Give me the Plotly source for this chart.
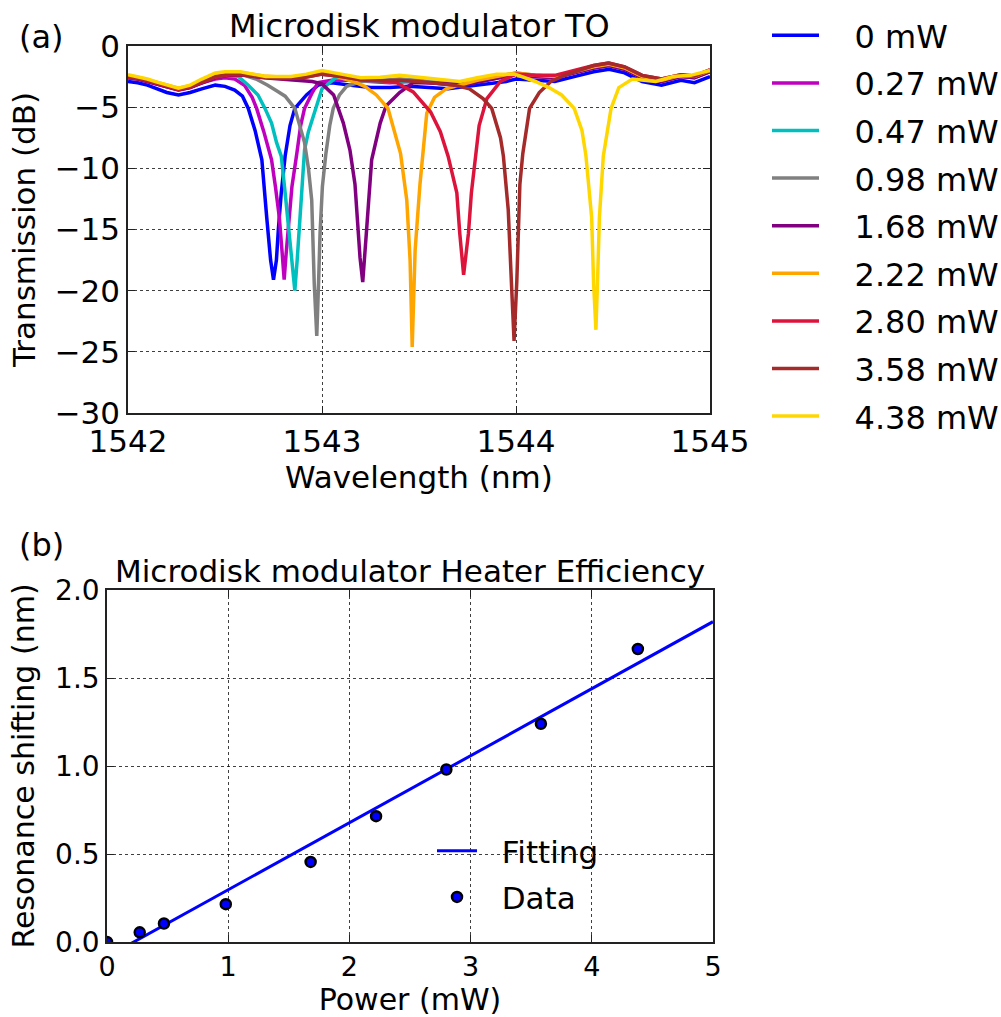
import plotly.graph_objects as go

# ---------------- data: panel (a) transmission spectra ----------------
labels = ["0 mW", "0.27 mW", "0.47 mW", "0.98 mW", "1.68 mW", "2.22 mW", "2.80 mW", "3.58 mW", "4.38 mW"]
colors = ["#0000ff", "#bf00bf", "#00bfbf", "#808080", "#800080", "#ffa500", "#dc143c", "#a52a2a", "#ffd700"]

wl_0 = [1542.00, 1542.05, 1542.10, 1542.15, 1542.20, 1542.26, 1542.32, 1542.38, 1542.45, 1542.50, 1542.55, 1542.59,
        1542.62, 1542.655, 1542.69, 1542.715, 1542.735, 1542.75, 1542.765, 1542.775, 1542.79, 1542.81, 1542.835, 1542.86,
        1542.92, 1542.98, 1543.05, 1543.15, 1543.25, 1543.35, 1543.45, 1543.55, 1543.65, 1543.75, 1543.85, 1543.95,
        1544.00, 1544.10, 1544.20, 1544.30, 1544.40, 1544.48, 1544.56, 1544.65, 1544.75, 1544.85, 1544.92, 1545.00]
tr_0 = [-2.9, -3.0, -3.2, -3.5, -3.8, -4.0, -3.8, -3.5, -3.2, -3.3, -3.6, -4.1,
        -5.1, -6.9, -9.3, -14.0, -17.5, -19.1, -17.5, -15.0, -12.0, -9.0, -6.5, -5.1,
        -4.0, -3.2, -3.0, -3.2, -3.4, -3.4, -3.3, -3.4, -3.5, -3.3, -3.1, -2.9,
        -2.7, -2.8, -2.9, -2.5, -2.1, -1.9, -2.2, -2.9, -3.2, -2.8, -3.0, -2.5]

wl_027 = [1542.00, 1542.05, 1542.10, 1542.15, 1542.20, 1542.26, 1542.32, 1542.38, 1542.45, 1542.50, 1542.55, 1542.60,
          1542.64, 1542.663, 1542.70, 1542.74, 1542.76, 1542.78, 1542.795, 1542.805, 1542.815, 1542.83, 1542.845, 1542.87,
          1542.89, 1542.91, 1542.95, 1542.98, 1543.05, 1543.15, 1543.25, 1543.35, 1543.45, 1543.55, 1543.65, 1543.75,
          1543.85, 1543.95, 1544.00, 1544.10, 1544.20, 1544.30, 1544.40, 1544.48, 1544.56, 1544.65, 1544.75, 1544.85,
          1544.92, 1545.00]
tr_027 = [-2.6, -2.7, -2.9, -3.1, -3.3, -3.6, -3.4, -3.0, -2.7, -2.6, -2.7, -3.2,
          -4.2, -5.1, -7.0, -9.3, -11.5, -14.0, -17.0, -19.1, -17.0, -14.0, -11.5, -8.8,
          -6.5, -5.1, -3.8, -3.0, -2.8, -2.8, -2.9, -3.0, -2.9, -3.0, -3.1, -3.1,
          -2.8, -2.5, -2.3, -2.5, -2.6, -2.2, -1.8, -1.6, -1.9, -2.6, -2.9, -2.5,
          -2.6, -2.1]

wl_047 = [1542.00, 1542.05, 1542.10, 1542.15, 1542.20, 1542.26, 1542.32, 1542.38, 1542.45, 1542.50, 1542.57, 1542.62,
          1542.67, 1542.706, 1542.74, 1542.766, 1542.79, 1542.81, 1542.83, 1542.848, 1542.86, 1542.872, 1542.887, 1542.91,
          1542.93, 1542.97, 1543.00, 1543.07, 1543.15, 1543.25, 1543.35, 1543.45, 1543.55, 1543.65, 1543.75, 1543.85,
          1543.95, 1544.00, 1544.10, 1544.20, 1544.30, 1544.40, 1544.48, 1544.56, 1544.65, 1544.75, 1544.85, 1544.92,
          1545.00]
tr_047 = [-2.55, -2.65, -2.85, -3.05, -3.25, -3.55, -3.35, -2.95, -2.55, -2.4, -2.5, -3.2,
          -4.0, -5.1, -6.3, -7.9, -9.0, -12.0, -15.0, -18.0, -20.0, -17.5, -14.0, -8.5,
          -7.0, -5.1, -3.5, -2.6, -2.7, -2.85, -2.95, -2.85, -2.95, -3.05, -3.05, -2.75,
          -2.45, -2.25, -2.45, -2.55, -2.15, -1.75, -1.55, -1.85, -2.55, -2.85, -2.45, -2.55,
          -2.05]

wl_098 = [1542.00, 1542.05, 1542.10, 1542.15, 1542.20, 1542.26, 1542.32, 1542.38, 1542.45, 1542.52, 1542.60, 1542.66,
          1542.72, 1542.77, 1542.81, 1542.86, 1542.91, 1542.93, 1542.947, 1542.96, 1542.973, 1542.982, 1542.99, 1543.002,
          1543.02, 1543.04, 1543.058, 1543.09, 1543.127, 1543.20, 1543.30, 1543.40, 1543.50, 1543.60, 1543.70, 1543.80,
          1543.90, 1544.00, 1544.10, 1544.20, 1544.30, 1544.40, 1544.48, 1544.56, 1544.65, 1544.75, 1544.85, 1544.92,
          1545.00]
tr_098 = [-2.5, -2.6, -2.8, -3.0, -3.2, -3.5, -3.3, -2.9, -2.5, -2.3, -2.4, -2.7,
          -3.2, -3.7, -4.1, -5.1, -7.9, -10.0, -12.6, -19.4, -23.7, -19.5, -15.3, -11.5,
          -8.8, -6.5, -5.1, -4.0, -3.3, -2.9, -2.8, -2.7, -2.8, -3.0, -3.0, -2.8,
          -2.5, -2.2, -2.4, -2.5, -2.1, -1.7, -1.5, -1.8, -2.5, -2.8, -2.4, -2.5,
          -2.0]

wl_168 = [1542.00, 1542.05, 1542.10, 1542.15, 1542.20, 1542.26, 1542.32, 1542.38, 1542.45, 1542.52, 1542.60, 1542.70,
          1542.80, 1542.90, 1542.95, 1543.00, 1543.06, 1543.11, 1543.144, 1543.17, 1543.196, 1543.21, 1543.22, 1543.23,
          1543.256, 1543.28, 1543.30, 1543.33, 1543.40, 1543.47, 1543.55, 1543.65, 1543.75, 1543.85, 1543.95, 1544.00,
          1544.10, 1544.20, 1544.30, 1544.40, 1544.48, 1544.56, 1544.65, 1544.75, 1544.85, 1544.92, 1545.00]
tr_168 = [-2.6, -2.7, -2.9, -3.1, -3.3, -3.6, -3.4, -3.0, -2.6, -2.4, -2.4, -2.6,
          -2.7, -2.8, -2.9, -3.1, -4.0, -6.3, -8.5, -11.3, -17.3, -19.3, -17.5, -15.0,
          -9.3, -7.5, -6.3, -4.9, -3.8, -3.0, -3.0, -3.1, -3.1, -2.8, -2.5, -2.3,
          -2.5, -2.6, -2.2, -1.8, -1.6, -1.9, -2.6, -2.9, -2.5, -2.6, -2.1]

wl_222 = [1542.00, 1542.05, 1542.10, 1542.15, 1542.20, 1542.26, 1542.32, 1542.38, 1542.45, 1542.52, 1542.60, 1542.70,
          1542.80, 1542.90, 1543.00, 1543.08, 1543.16, 1543.22, 1543.28, 1543.34, 1543.39, 1543.405, 1543.437, 1543.454,
          1543.465, 1543.48, 1543.505, 1543.52, 1543.54, 1543.58, 1543.64, 1543.71, 1543.80, 1543.90, 1544.00, 1544.10,
          1544.20, 1544.30, 1544.40, 1544.48, 1544.56, 1544.65, 1544.75, 1544.85, 1544.92, 1545.00]
tr_222 = [-2.45, -2.55, -2.75, -2.95, -3.15, -3.45, -3.25, -2.85, -2.45, -2.25, -2.2, -2.45,
          -2.55, -2.5, -2.2, -2.5, -2.9, -3.3, -4.0, -5.1, -7.9, -8.8, -12.6, -17.5,
          -24.6, -16.7, -11.3, -8.5, -5.5, -4.2, -3.5, -3.2, -2.8, -2.5, -2.2, -2.4,
          -2.5, -2.1, -1.7, -1.5, -1.8, -2.5, -2.8, -2.4, -2.5, -2.0]

wl_280 = [1542.00, 1542.05, 1542.10, 1542.15, 1542.20, 1542.26, 1542.32, 1542.38, 1542.45, 1542.52, 1542.60, 1542.70,
          1542.80, 1542.90, 1543.00, 1543.10, 1543.20, 1543.30, 1543.385, 1543.47, 1543.56, 1543.61, 1543.65, 1543.695,
          1543.71, 1543.73, 1543.755, 1543.77, 1543.79, 1543.81, 1543.85, 1543.92, 1544.00, 1544.10, 1544.20, 1544.30,
          1544.40, 1544.48, 1544.56, 1544.65, 1544.75, 1544.85, 1544.92, 1545.00]
tr_280 = [-2.55, -2.65, -2.85, -3.05, -3.25, -3.55, -3.35, -2.95, -2.55, -2.35, -2.35, -2.55,
          -2.65, -2.6, -2.3, -2.5, -2.75, -2.85, -3.0, -3.75, -5.4, -7.0, -9.0, -12.0,
          -15.3, -18.7, -15.3, -12.0, -9.0, -6.5, -4.3, -2.9, -2.3, -2.4, -2.4, -2.0,
          -1.6, -1.4, -1.7, -2.4, -2.7, -2.35, -2.45, -1.95]

wl_358 = [1542.00, 1542.05, 1542.10, 1542.15, 1542.20, 1542.26, 1542.32, 1542.38, 1542.45, 1542.52, 1542.60, 1542.70,
          1542.80, 1542.90, 1543.00, 1543.10, 1543.20, 1543.30, 1543.40, 1543.50, 1543.60, 1543.68, 1543.76, 1543.83,
          1543.875, 1543.92, 1543.935, 1543.96, 1543.978, 1543.99, 1544.004, 1544.02, 1544.035, 1544.07, 1544.12, 1544.18,
          1544.25, 1544.32, 1544.40, 1544.475, 1544.56, 1544.65, 1544.75, 1544.85, 1544.92, 1545.00]
tr_358 = [-2.5, -2.6, -2.8, -3.0, -3.2, -3.5, -3.3, -2.9, -2.5, -2.3, -2.35, -2.55,
          -2.65, -2.6, -2.3, -2.5, -2.75, -2.85, -2.8, -2.9, -3.1, -3.2, -3.5, -4.3,
          -5.1, -7.5, -9.0, -13.4, -19.9, -24.1, -19.3, -11.3, -8.8, -5.1, -3.8, -2.9,
          -2.4, -2.0, -1.6, -1.4, -1.7, -2.4, -2.7, -2.35, -2.45, -1.95]

wl_438 = [1542.00, 1542.05, 1542.10, 1542.15, 1542.20, 1542.26, 1542.32, 1542.38, 1542.45, 1542.50, 1542.58, 1542.65,
          1542.71, 1542.78, 1542.84, 1542.92, 1543.00, 1543.10, 1543.20, 1543.30, 1543.40, 1543.50, 1543.60, 1543.71,
          1543.80, 1543.90, 1543.995, 1544.10, 1544.17, 1544.235, 1544.30, 1544.34, 1544.36, 1544.39, 1544.40, 1544.412,
          1544.42, 1544.43, 1544.45, 1544.49, 1544.53, 1544.60, 1544.66, 1544.72, 1544.81, 1544.90, 1545.00]
tr_438 = [-2.35, -2.5, -2.7, -2.95, -3.2, -3.45, -3.2, -2.7, -2.2, -2.1, -2.1, -2.3,
          -2.5, -2.5, -2.5, -2.3, -2.0, -2.3, -2.6, -2.55, -2.4, -2.55, -2.75, -2.9,
          -2.6, -2.3, -2.3, -2.9, -3.4, -4.0, -5.1, -6.9, -8.9, -14.0, -19.4, -23.2,
          -19.4, -14.0, -9.0, -5.1, -3.4, -2.7, -2.8, -2.9, -2.5, -2.4, -2.0]

spectra_wl = [wl_0, wl_027, wl_047, wl_098, wl_168, wl_222, wl_280, wl_358, wl_438]
spectra_tr = [tr_0, tr_027, tr_047, tr_098, tr_168, tr_222, tr_280, tr_358, tr_438]

wl_ticks = [1542, 1543, 1544, 1545]
tr_ticks = [0, -5, -10, -15, -20, -25, -30]

# ---------------- data: panel (b) heater efficiency ----------------
power_mw = [0.0, 0.27, 0.47, 0.98, 1.68, 2.22, 2.80, 3.58, 4.38]
shift_nm = [0.0, 0.055, 0.105, 0.215, 0.455, 0.715, 0.98, 1.24, 1.665]
fit_power = [0.0, 5.0]
fit_shift = [-0.084, 1.82]
p_ticks = [0, 1, 2, 3, 4, 5]
s_ticks = [0.0, 0.5, 1.0, 1.5, 2.0]

for a, b in zip(spectra_wl, spectra_tr):
    assert len(a) == len(b)

# ---------------- figure ----------------
W, H = 1001, 1017
FONT = "DejaVu Sans"
GAP = "\u00a0"  # non-breaking space: gap between legend sample and its text

def px_x(p):
    return p / W

def px_y(p):
    return 1 - p / H

fig = go.Figure()

for i, (wl, tr) in enumerate(zip(spectra_wl, spectra_tr)):
    fig.add_trace(go.Scatter(
        x=wl, y=tr, mode="lines", name=GAP * 3 + labels[i],
        line=dict(color=colors[i], width=3.5),
        xaxis="x", yaxis="y", legend="legend", legendgroup="g%d" % i,
    ))

fig.add_trace(go.Scatter(
    x=fit_power, y=fit_shift, mode="lines", name=GAP * 2 + "Fitting",
    line=dict(color="#0000ff", width=3),
    xaxis="x2", yaxis="y2", legend="legend2", legendgroup="fit",
))
fig.add_trace(go.Scatter(
    x=power_mw, y=shift_nm, mode="markers", name=GAP * 2 + "Data",
    marker=dict(color="#0000ff", size=10, line=dict(color="black", width=2.5)),
    xaxis="x2", yaxis="y2", legend="legend2", legendgroup="data",
))

axis_common = dict(
    showline=True, linecolor="#222", linewidth=1.5, mirror="ticks",
    ticks="inside", ticklen=7, tickwidth=1.2, tickcolor="#222",
    showgrid=True, gridcolor="rgba(0,0,0,0.75)", griddash="dot", gridwidth=1,
    zeroline=False, automargin=False,
)

fig.update_layout(
    width=W, height=H,
    margin=dict(l=0, r=0, t=0, b=0, autoexpand=False),
    paper_bgcolor="white", plot_bgcolor="white",
    font=dict(family=FONT, color="black"),
    xaxis=dict(axis_common, domain=[px_x(128), px_x(710)], anchor="y",
               range=[1542, 1545], tickvals=wl_ticks, ticktext=[str(t) for t in wl_ticks],
               tickfont=dict(family=FONT, size=31),
               title=dict(text="Wavelength (nm)", font=dict(size=31), standoff=0)),
    yaxis=dict(axis_common, domain=[px_y(413), px_y(46)], anchor="x",
               range=[-30, 0], tickvals=tr_ticks, tickfont=dict(family=FONT, size=31),
               title=dict(text="Transmission (dB)", font=dict(size=31), standoff=10)),
    xaxis2=dict(axis_common, domain=[px_x(107), px_x(713)], anchor="y2",
                range=[0, 5], tickvals=p_ticks, tickfont=dict(family=FONT, size=27),
                title=dict(text="Power (mW)", font=dict(size=30), standoff=18)),
    yaxis2=dict(axis_common, domain=[px_y(942), px_y(590)], anchor="x2",
                range=[0, 2], tickvals=s_ticks, tickformat=".1f", tickfont=dict(family=FONT, size=28),
                title=dict(text="Resonance shifting (nm)", font=dict(size=30), standoff=12)),
    legend=dict(x=px_x(767), y=px_y(8), xanchor="left", yanchor="top",
                font=dict(family=FONT, size=32), tracegroupgap=3, itemwidth=47,
                bgcolor="rgba(0,0,0,0)", borderwidth=0),
    legend2=dict(x=px_x(432), y=px_y(824), xanchor="left", yanchor="top",
                 font=dict(family=FONT, size=31), tracegroupgap=3, itemwidth=40,
                 bgcolor="rgba(0,0,0,0)", borderwidth=0),
    annotations=[
        dict(text="Microdisk modulator TO", x=px_x(419), y=px_y(26), xref="paper", yref="paper",
             showarrow=False, font=dict(family=FONT, size=32), xanchor="center", yanchor="middle"),
        dict(text="Microdisk modulator Heater Efficiency", x=px_x(410), y=px_y(571), xref="paper", yref="paper",
             showarrow=False, font=dict(family=FONT, size=31), xanchor="center", yanchor="middle"),
        dict(text="(a)", x=px_x(41), y=px_y(37), xref="paper", yref="paper",
             showarrow=False, font=dict(family=FONT, size=32), xanchor="center", yanchor="middle"),
        dict(text="(b)", x=px_x(41), y=px_y(545), xref="paper", yref="paper",
             showarrow=False, font=dict(family=FONT, size=32), xanchor="center", yanchor="middle"),
    ],
)

fig.write_html("out.html", config={"displayModeBar": False},
               post_script="document.body.style.margin='0px';document.body.style.overflow='hidden';")
